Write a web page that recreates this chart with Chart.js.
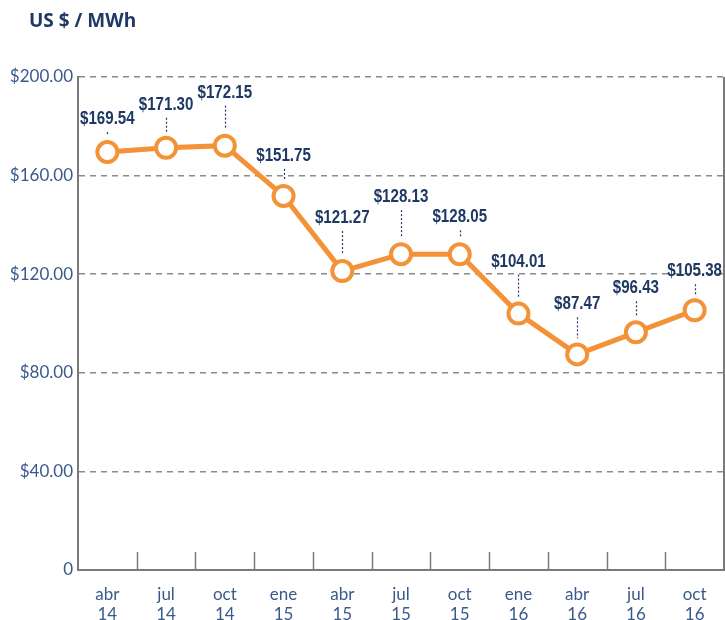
<!DOCTYPE html>
<html>
<head>
<meta charset="utf-8">
<script src="https://cdn.jsdelivr.net/npm/chart.js@4"></script>
<style>
  html, body { margin: 0; padding: 0; background: #fff; overflow: hidden; }
  canvas { display: block; }
</style>
</head>
<body>
<canvas id="priceChart" width="725" height="620"></canvas>
<script>
const months = ['abr', 'jul', 'oct', 'ene', 'abr', 'jul', 'oct', 'ene', 'abr', 'jul', 'oct'];
const years = ['14', '14', '14', '15', '15', '15', '15', '16', '16', '16', '16'];
const prices = [169.54, 171.30, 172.15, 151.75, 121.27, 128.13, 128.05, 104.01, 87.47, 96.43, 105.38];
const yTicks = [0, 40, 80, 120, 160, 200];

// distance (px) between each point and its value label
const labelGap = [33, 43, 53, 40, 53, 57, 37, 52, 50, 44, 39];

const ORANGE = '#F39237';
const NAVY = '#1F3864';
const AXIS_BLUE = '#3A5A8C';
const GREY = '#7a7a7a';

const labels = months.map((m, i) => [m, years[i]]);

// value labels with dotted leaders, inner x ticks, right border, title
const decorations = {
  id: 'decorations',
  afterDraw(chart) {
    const { ctx, chartArea: a, scales: { x } } = chart;
    ctx.save();

    // title
    ctx.fillStyle = NAVY;
    ctx.font = 'bold 19px "Open Sans", sans-serif';
    ctx.textBaseline = 'middle';
    ctx.textAlign = 'left';
    ctx.fillText('US $ / MWh', 29, 22);

    // right border
    ctx.strokeStyle = GREY;
    ctx.lineWidth = 2;
    ctx.beginPath();
    ctx.moveTo(a.right, a.top);
    ctx.lineTo(a.right, a.bottom);
    ctx.stroke();

    // inner ticks between categories
    ctx.lineWidth = 1.5;
    for (let i = 1; i < prices.length; i++) {
      const px = Math.round((x.getPixelForValue(i - 1) + x.getPixelForValue(i)) / 2) + 0.5;
      ctx.beginPath();
      ctx.moveTo(px, a.bottom);
      ctx.lineTo(px, a.bottom - 18);
      ctx.stroke();
    }

    // value labels (condensed bold)
    const meta = chart.getDatasetMeta(0);
    meta.data.forEach((pt, i) => {
      const ly = pt.y - labelGap[i];
      ctx.save();
      ctx.translate(pt.x, ly);
      ctx.scale(0.84, 1);
      ctx.font = 'bold 18px "Liberation Sans Narrow", sans-serif';
      ctx.textAlign = 'center';
      ctx.textBaseline = 'middle';
      ctx.fillStyle = NAVY;
      ctx.fillText('$' + prices[i].toFixed(2), 0, 0);
      ctx.restore();

      ctx.strokeStyle = NAVY;
      ctx.lineWidth = 1.2;
      ctx.setLineDash([2, 2]);
      ctx.beginPath();
      ctx.moveTo(Math.round(pt.x) + 0.5, ly + 13);
      ctx.lineTo(Math.round(pt.x) + 0.5, pt.y - 16);
      ctx.stroke();
      ctx.setLineDash([]);
    });
    ctx.restore();
  }
};

new Chart(document.getElementById('priceChart'), {
  type: 'line',
  data: {
    labels: labels,
    datasets: [{
      data: prices,
      borderColor: ORANGE,
      borderWidth: 5,
      pointRadius: 10,
      pointBorderWidth: 4,
      pointBackgroundColor: '#ffffff',
      pointBorderColor: ORANGE,
      tension: 0
    }]
  },
  options: {
    responsive: false,
    animation: false,
    layout: { autoPadding: false, padding: { top: 77, right: 1, left: 0, bottom: 0 } },
    plugins: {
      legend: { display: false },
      tooltip: { enabled: false }
    },
    scales: {
      x: {
        offset: true,
        grid: { display: false },
        border: { display: true, color: GREY, width: 2 },
        ticks: {
          color: AXIS_BLUE,
          font: { family: 'Lato, sans-serif', size: 17 },
          padding: 6,
          maxRotation: 0,
          autoSkip: false
        },
        afterFit(scale) {
          scale.height = 50;
          scale.paddingLeft = 0;
          scale.paddingRight = 0;
        }
      },
      y: {
        min: 0,
        max: 200,
        afterBuildTicks(scale) { scale.ticks = yTicks.map(v => ({ value: v })); },
        grid: {
          color: ctx => ctx.tick && ctx.tick.value === 0 ? 'rgba(0,0,0,0)' : '#8a8a8a',
          lineWidth: 1.5,
          drawTicks: false
        },
        border: { display: true, color: GREY, width: 2, dash: [6, 5] },
        ticks: {
          color: AXIS_BLUE,
          font: { family: 'Lato, sans-serif', size: 17 },
          padding: 5,
          callback: v => v === 0 ? '0' : '$' + v.toFixed(2)
        },
        afterFit(scale) {
          scale.width = 78;
          scale.paddingTop = 0;
          scale.paddingBottom = 0;
        }
      }
    }
  },
  plugins: [decorations]
});
</script>
</body>
</html>
